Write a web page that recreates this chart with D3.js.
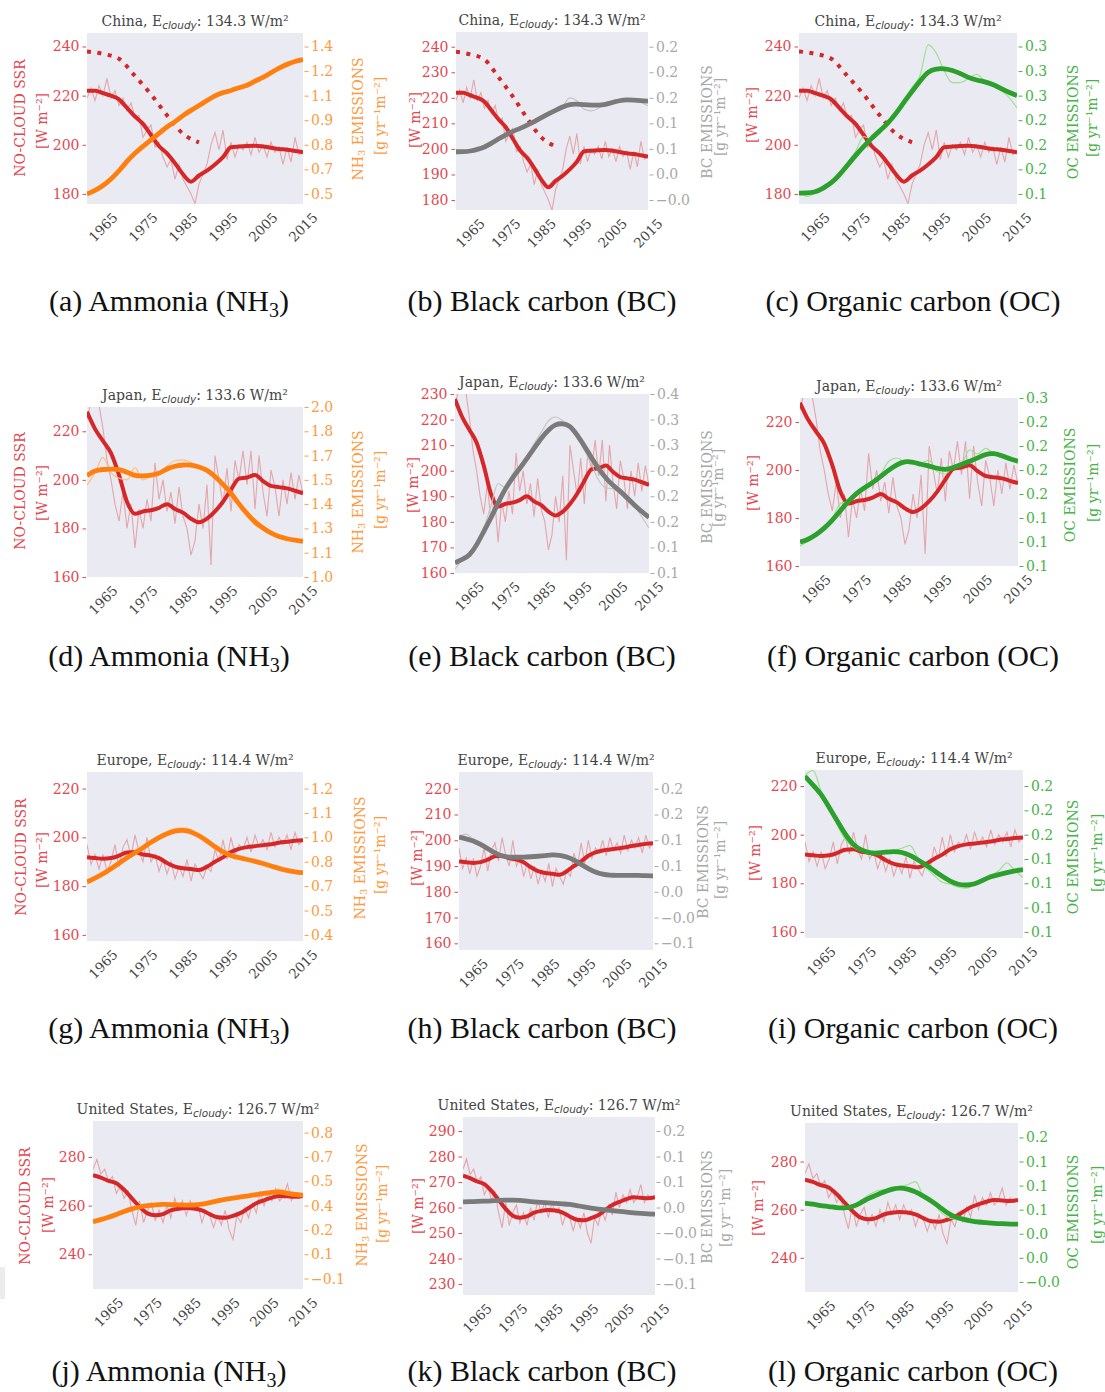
<!DOCTYPE html>
<html>
<head>
<meta charset="utf-8">
<script src="https://cdnjs.cloudflare.com/ajax/libs/d3/7.8.5/d3.min.js"></script>
<style>
  body { margin: 0; background: #fff; }
  text { font-family: "DejaVu Serif", serif; }
  text.cap { font-family: "Liberation Serif", "Times New Roman", serif; }
</style>
</head>
<body>
<svg id="fig" width="1105" height="1392"></svg>
<script>

// ---- data ----
var yearsAnnual = [1961,1962,1963,1964,1965,1966,1967,1968,1969,1970,1971,1972,1973,1974,1975,1976,1977,1978,1979,1980,
    1981,1982,1983,1984,1985,1986,1987,1988,1989,1990,1991,1992,1993,1994,1995,1996,1997,1998,1999,2000,
    2001,2002,2003,2004,2005,2006,2007,2008,2009,2010,2011,2012,2013,2014,2015];
var yearsSmooth = [1961,1963,1965,1967,1969,1971,1973,1975,1977,1979,1981,1983,1985,1987,1989,1991,1993,1995,1997,1999,
    2001,2003,2005,2007,2009,2011,2013,2015];
var xTickYears = [1965, 1975, 1985, 1995, 2005, 2015];

// no-cloud SSR [W m-2]
var ssrRawChina = [219,223,218,224,220,227,219,222,216,219,214,217,211,212,203,206,208,199,201,195,
    191,194,186,192,186,183,180,176,184,188,192,200,205,198,206,194,201,195,200,198,
    201,196,203,197,200,195,201,197,199,192,199,193,203,196,197];
var ssrSmoothChina = [222,222,221,220,218.5,215,211.5,208.5,204,199.5,196.5,192.5,188,185,187.5,189.5,192,195,199,199.3,
    199.5,199.6,199.3,198.8,198.3,198,197.5,197];
var ssrDottedYears = [1961,1965,1969,1973,1977,1981,1985,1989];
var ssrDottedChina = [238,237,235,228,220.5,212,204.5,201];

var ssrRawJapan = [225,232,233,231,221,208,200,190,183,195,180,190,172,188,180,192,183,207,192,200,
    187,195,182,197,185,180,169,175,190,180,198,165,210,200,190,205,187,208,200,212,
    198,212,188,210,195,185,204,197,185,200,190,203,192,202,194];
var ssrSmoothJapan = [228,221,216,211,202,191,186,187,187.5,188.5,190,188,186.5,184,182.5,184,187,191,196,200.5,
    201,202,199.5,197.5,197,196.5,195.5,194.5];

var ssrRawEurope = [197,189,193,187,193,186,190,197,188,196,199,192,201,194,190,200,190,193,186,191,
    185,190,183,188,184,191,182,189,186,183,188,186,195,190,199,191,200,193,197,195,
    200,194,201,196,199,195,202,196,200,197,201,195,202,197,199];
var ssrSmoothEurope = [191.8,191.5,191.2,191.5,192.5,193.8,194,193,192.5,191.5,189.5,188,187.3,187,186.6,188,190,191.8,194,195.3,
    196,196.4,196.8,197.2,197.8,198.2,198.6,198.8];

var ssrRawUS = [275,279,273,275,270,272,265,268,263,266,258,252,262,253,258,261,254,258,253,260,
    255,263,258,262,256,262,258,260,253,258,256,251,256,252,258,250,246,256,253,259,
    255,261,257,266,260,265,262,267,262,264,269,262,265,263,264];
var ssrSmoothUS = [272.5,271.5,270.2,269.2,266.5,263,259.5,256.8,256,256.5,258,258.7,259,258.8,258,256.5,255.2,255,255.8,257,
    259,261,262.2,263.3,264,263.8,263.6,264];

// emissions [g yr-1 m-2], smoothed and raw, on yearsSmooth
var nh3China = [0.50,0.52,0.55,0.59,0.64,0.70,0.75,0.79,0.83,0.87,0.91,0.94,0.98,1.01,1.04,1.07,1.10,1.12,1.13,1.15,1.16,1.19,1.21,1.24,1.27,1.29,1.31,1.32];
var nh3ChinaRaw = [0.49,0.515,0.55,0.595,0.645,0.70,0.75,0.79,0.83,0.87,0.905,0.94,0.98,1.01,1.04,1.07,1.10,1.115,1.125,1.15,1.165,1.19,1.21,1.24,1.275,1.305,1.315,1.32];
var bcChina = [0.060,0.060,0.061,0.064,0.068,0.075,0.083,0.090,0.096,0.101,0.107,0.113,0.120,0.127,0.133,0.139,0.144,0.144,0.143,0.142,0.142,0.143,0.147,0.150,0.152,0.151,0.150,0.149];
var bcChinaRaw = [0.060,0.059,0.061,0.065,0.069,0.075,0.083,0.090,0.096,0.101,0.107,0.113,0.120,0.127,0.133,0.140,0.155,0.150,0.135,0.132,0.136,0.146,0.150,0.152,0.153,0.150,0.147,0.141];
var ocChina = [0.141,0.141,0.142,0.147,0.153,0.163,0.175,0.187,0.198,0.208,0.217,0.226,0.238,0.252,0.265,0.278,0.290,0.293,0.293,0.291,0.287,0.282,0.279,0.277,0.274,0.269,0.264,0.260];
var ocChinaRaw = [0.143,0.137,0.141,0.150,0.155,0.165,0.178,0.192,0.210,0.207,0.215,0.226,0.240,0.256,0.270,0.285,0.322,0.312,0.290,0.276,0.276,0.281,0.286,0.278,0.272,0.266,0.258,0.245];

var nh3Japan = [1.565,1.595,1.600,1.603,1.602,1.585,1.562,1.563,1.567,1.575,1.605,1.620,1.627,1.626,1.615,1.598,1.560,1.515,1.465,1.400,1.345,1.295,1.262,1.232,1.212,1.200,1.192,1.186];
var nh3JapanRaw = [1.51,1.58,1.67,1.58,1.55,1.54,1.61,1.54,1.56,1.57,1.62,1.65,1.655,1.64,1.61,1.595,1.55,1.51,1.46,1.39,1.33,1.28,1.255,1.23,1.21,1.195,1.19,1.185];
var bcJapan = [0.096,0.101,0.107,0.123,0.145,0.166,0.190,0.212,0.229,0.243,0.259,0.275,0.291,0.304,0.313,0.314,0.311,0.296,0.279,0.260,0.243,0.228,0.217,0.208,0.197,0.186,0.176,0.167];
var bcJapanRaw = [0.086,0.100,0.108,0.125,0.150,0.185,0.220,0.214,0.235,0.248,0.262,0.282,0.300,0.318,0.324,0.318,0.310,0.292,0.272,0.250,0.225,0.213,0.212,0.206,0.196,0.184,0.168,0.150];
var ocJapan = [0.095,0.098,0.104,0.112,0.122,0.134,0.146,0.156,0.163,0.169,0.177,0.185,0.192,0.196,0.195,0.192,0.190,0.187,0.185,0.188,0.192,0.196,0.200,0.205,0.206,0.203,0.199,0.196];
var ocJapanRaw = [0.090,0.096,0.103,0.113,0.124,0.143,0.146,0.158,0.165,0.170,0.180,0.196,0.200,0.195,0.192,0.194,0.197,0.183,0.180,0.190,0.193,0.210,0.205,0.212,0.205,0.200,0.198,0.193];

var nh3Europe = [0.705,0.725,0.750,0.780,0.812,0.843,0.872,0.900,0.932,0.960,0.982,0.998,1.002,0.994,0.970,0.940,0.905,0.875,0.855,0.843,0.833,0.823,0.810,0.795,0.782,0.770,0.762,0.757];
var nh3EuropeRaw = [0.69,0.735,0.745,0.775,0.815,0.85,0.875,0.905,0.935,0.965,0.99,1.01,1.015,1.005,0.97,0.935,0.915,0.88,0.855,0.84,0.835,0.82,0.81,0.795,0.78,0.77,0.76,0.755];
var bcEurope = [0.136,0.133,0.129,0.122,0.114,0.105,0.099,0.097,0.097,0.097,0.098,0.099,0.100,0.102,0.101,0.098,0.092,0.083,0.075,0.068,0.064,0.062,0.062,0.062,0.062,0.062,0.061,0.061];
var bcEuropeRaw = [0.138,0.142,0.131,0.120,0.113,0.104,0.098,0.097,0.096,0.098,0.099,0.100,0.102,0.104,0.102,0.097,0.090,0.080,0.073,0.066,0.062,0.061,0.063,0.063,0.062,0.061,0.061,0.060];
var ocEurope = [0.215,0.206,0.197,0.183,0.169,0.155,0.144,0.139,0.136,0.136,0.137,0.138,0.137,0.134,0.129,0.124,0.118,0.112,0.107,0.1035,0.103,0.104,0.108,0.112,0.114,0.116,0.118,0.119];
var ocEuropeRaw = [0.216,0.221,0.200,0.186,0.165,0.150,0.142,0.138,0.136,0.135,0.137,0.139,0.141,0.144,0.131,0.121,0.113,0.106,0.104,0.101,0.100,0.104,0.109,0.113,0.118,0.126,0.118,0.111];

var nh3US = [0.281,0.293,0.308,0.325,0.345,0.360,0.372,0.380,0.385,0.388,0.387,0.384,0.383,0.383,0.388,0.398,0.410,0.419,0.427,0.433,0.440,0.448,0.455,0.462,0.466,0.455,0.448,0.444];
var nh3USRaw = [0.278,0.292,0.308,0.327,0.345,0.362,0.374,0.382,0.387,0.388,0.387,0.382,0.382,0.385,0.392,0.400,0.410,0.420,0.430,0.436,0.443,0.452,0.460,0.470,0.480,0.470,0.447,0.435];
var bcUS = [0.031,0.0315,0.032,0.0325,0.033,0.034,0.0345,0.0345,0.034,0.0325,0.031,0.030,0.029,0.028,0.027,0.0265,0.024,0.021,0.019,0.017,0.0155,0.014,0.0125,0.011,0.0095,0.0085,0.0075,0.007];
var bcUSRaw = [0.030,0.032,0.033,0.033,0.033,0.035,0.036,0.035,0.034,0.032,0.031,0.030,0.029,0.028,0.027,0.026,0.023,0.020,0.018,0.017,0.015,0.014,0.012,0.011,0.010,0.008,0.007,0.006];
var ocUS = [0.073,0.072,0.070,0.069,0.0675,0.0668,0.0685,0.073,0.079,0.083,0.087,0.0905,0.0925,0.091,0.0875,0.082,0.076,0.069,0.061,0.056,0.053,0.051,0.0495,0.0488,0.048,0.0475,0.047,0.047];
var ocUSRaw = [0.074,0.072,0.070,0.068,0.066,0.066,0.070,0.076,0.083,0.088,0.090,0.093,0.094,0.096,0.100,0.083,0.078,0.064,0.056,0.053,0.052,0.051,0.050,0.049,0.048,0.048,0.046,0.047];

// ---- panel setup ----
var regionSSR = {
    China: [ssrRawChina, ssrSmoothChina],
    Japan: [ssrRawJapan, ssrSmoothJapan],
    Europe: [ssrRawEurope, ssrSmoothEurope],
    US: [ssrRawUS, ssrSmoothUS]
};
var regionTitle = { China: ["China", "134.3"], Japan: ["Japan", "133.6"], Europe: ["Europe", "114.4"], US: ["United States", "126.7"] };

var species = {
    nh3: { line: "#ff7f0e", lab: "#ff9a40", thin: "#ffbb78", name: "NH", sub: "3", rest: " EMISSIONS" },
    bc:  { line: "#7a7a7a", lab: "#a8a8a8", thin: "#c2c2c2", name: "BC EMISSIONS" },
    oc:  { line: "#2ca02c", lab: "#47b347", thin: "#98df8a", name: "OC EMISSIONS" }
};

var redLine = "#d62728", redLab = "#e4474f";

var panels = [
  { id: "a", reg: "China", sp: "nh3", em: [nh3China, nh3ChinaRaw], x: 87, y: 33, w: 216, h: 171, left: [175.9, 245.5], lt: [180, 200, 220, 240],
    rA: [180, 0.5, 0.015], rt: [0.5, 0.65, 0.8, 0.95, 1.1, 1.25, 1.4], rl: ["0.5","0.7","0.8","0.9","1.1","1.2","1.4"],
    ssrLab: [20, 118], wLab: [41.7, 121], emLab: [358, 119], gLab: [380, 116] },
  { id: "b", reg: "China", sp: "bc", em: [bcChina, bcChinaRaw], x: 456, y: 32, w: 192, h: 178, left: [176.1, 245.75], lt: [180, 190, 200, 210, 220, 230, 240],
    rA: [180, -0.025, 0.0045], rt: [-0.025, 0.02, 0.065, 0.11, 0.155, 0.2, 0.245], rl: ["\u22120.0","0.0","0.1","0.1","0.2","0.2","0.2"],
    wLab: [415, 120], emLab: [706.7, 122], gLab: [720, 117] },
  { id: "c", reg: "China", sp: "oc", em: [ocChina, ocChinaRaw], x: 799, y: 33, w: 218, h: 171, left: [175.9, 245.5], lt: [180, 200, 220, 240],
    rA: [180, 0.14, 0.003], rt: [0.14, 0.17, 0.2, 0.23, 0.26, 0.29, 0.32], rl: ["0.1","0.2","0.2","0.2","0.3","0.3","0.3"],
    wLab: [751.7, 115], emLab: [1073, 122], gLab: [1091.7, 118] },

  { id: "d", reg: "Japan", sp: "nh3", em: [nh3Japan, nh3JapanRaw], x: 87, y: 407, w: 216, h: 170, left: [160, 230], lt: [160, 180, 200, 220],
    rA: [160, 0.98, 0.014], rt: [0.98, 1.12, 1.26, 1.4, 1.54, 1.68, 1.82, 1.96], rl: ["1.0","1.1","1.3","1.4","1.5","1.7","1.8","2.0"],
    ssrLab: [20, 491], wLab: [41.7, 493], emLab: [358.3, 492], gLab: [380, 490] },
  { id: "e", reg: "Japan", sp: "bc", em: [bcJapan, bcJapanRaw], x: 455, y: 394, w: 194, h: 179, left: [160, 230], lt: [160, 170, 180, 190, 200, 210, 220, 230],
    rA: [160, 0.08, 0.004], rt: [0.08, 0.12, 0.16, 0.2, 0.24, 0.28, 0.32, 0.36], rl: ["0.1","0.1","0.2","0.2","0.2","0.3","0.3","0.4"],
    wLab: [413, 485], emLab: [706.7, 487], gLab: [718.3, 488] },
  { id: "f", reg: "Japan", sp: "oc", em: [ocJapan, ocJapanRaw], x: 800, y: 398, w: 218, h: 168, left: [160, 230], lt: [160, 180, 200, 220],
    rA: [160, 0.065, 0.003], rt: [0.065, 0.095, 0.125, 0.155, 0.185, 0.215, 0.245, 0.275], rl: ["0.1","0.1","0.1","0.2","0.2","0.2","0.2","0.3"],
    wLab: [753, 483], emLab: [1070, 485], gLab: [1093, 483] },

  { id: "g", reg: "Europe", sp: "nh3", em: [nh3Europe, nh3EuropeRaw], x: 87, y: 772, w: 216, h: 169, left: [157.5, 226.8], lt: [160, 180, 200, 220],
    rA: [160, 0.4, 0.014], rt: [0.4, 0.54, 0.68, 0.82, 0.96, 1.1, 1.24], rl: ["0.4","0.5","0.7","0.8","1.0","1.1","1.2"],
    ssrLab: [20.7, 857], wLab: [41.7, 860], emLab: [360, 858], gLab: [380, 855] },
  { id: "h", reg: "Europe", sp: "bc", em: [bcEurope, bcEuropeRaw], x: 459, y: 772, w: 194, h: 178, left: [157.4, 226.5], lt: [160, 170, 180, 190, 200, 210, 220],
    rA: [160, -0.07, 0.005], rt: [-0.07, -0.02, 0.03, 0.08, 0.13, 0.18, 0.23], rl: ["\u22120.1","\u22120.0","0.0","0.1","0.1","0.2","0.2"],
    wLab: [416.7, 858], emLab: [703, 862], gLab: [720, 860] },
  { id: "i", reg: "Europe", sp: "oc", em: [ocEurope, ocEuropeRaw], x: 805, y: 770, w: 218, h: 168, left: [157.5, 226.6], lt: [160, 180, 200, 220],
    rA: [160, 0.055, 0.0025], rt: [0.055, 0.08, 0.105, 0.13, 0.155, 0.18, 0.205], rl: ["0.1","0.1","0.1","0.1","0.2","0.2","0.2"],
    wLab: [755, 853], emLab: [1073, 857], gLab: [1096.7, 853] },

  { id: "j", reg: "US", sp: "nh3", em: [nh3US, nh3USRaw], x: 93, y: 1121, w: 210, h: 168, left: [225.7, 294.8], lt: [240, 260, 280],
    rA: [230, -0.07, 0.015], rt: [-0.07, 0.08, 0.23, 0.38, 0.53, 0.68, 0.83], rl: ["\u22120.1","0.1","0.2","0.4","0.5","0.7","0.8"],
    ssrLab: [25, 1206], wLab: [48.3, 1205], emLab: [361.7, 1205], gLab: [381.7, 1204] },
  { id: "k", reg: "US", sp: "bc", em: [bcUS, bcUSRaw], x: 463, y: 1117, w: 192, h: 178, left: [225.7, 295.5], lt: [230, 240, 250, 260, 270, 280, 290],
    rA: [230, -0.13, 0.005], rt: [-0.13, -0.08, -0.03, 0.02, 0.07, 0.12, 0.17], rl: ["\u22120.1","\u22120.1","\u22120.0","0.0","0.1","0.1","0.2"],
    wLab: [418.3, 1206], emLab: [706.7, 1207], gLab: [725, 1208] },
  { id: "l", reg: "US", sp: "oc", em: [ocUS, ocUSRaw], x: 805, y: 1123, w: 213, h: 169, left: [225.8, 296], lt: [240, 260, 280],
    rA: [230, -0.025, 0.003], rt: [-0.025, 0.005, 0.035, 0.065, 0.095, 0.125, 0.155], rl: ["\u22120.0","0.0","0.0","0.1","0.1","0.1","0.2"],
    wLab: [758.3, 1208], emLab: [1073, 1212], gLab: [1096.7, 1205] }
];

var captions = [
    ["(a) Ammonia (NH", "3", ")"], ["(b) Black carbon (BC)"], ["(c) Organic carbon (OC)"],
    ["(d) Ammonia (NH", "3", ")"], ["(e) Black carbon (BC)"], ["(f) Organic carbon (OC)"],
    ["(g) Ammonia (NH", "3", ")"], ["(h) Black carbon (BC)"], ["(i) Organic carbon (OC)"],
    ["(j) Ammonia (NH", "3", ")"], ["(k) Black carbon (BC)"], ["(l) Organic carbon (OC)"]
];
var captionX = [169, 542, 913];
var captionY = [311, 666, 1038, 1381];

// ---- drawing ----
var svg = d3.select("#fig");
var defs = svg.append("defs");

// small grey box at the left edge of the last row
svg.append("rect").attr("x", 0).attr("y", 1267).attr("width", 5).attr("height", 32).attr("fill", "#ececec");

function vtext(x, cy, color, size) {
    return svg.append("text")
        .attr("transform", "translate(" + x + "," + cy + ") rotate(-90)")
        .attr("text-anchor", "middle")
        .attr("dominant-baseline", "central")
        .attr("fill", color)
        .style("font-size", size + "px");
}

function drawPanel(p) {
    var sp = species[p.sp];
    var ssr = regionSSR[p.reg];

    var x = d3.scaleLinear().domain([1961, 2015]).range([p.x, p.x + p.w]);
    var y = d3.scaleLinear().domain(p.left).range([p.y + p.h, p.y]);
    var rDom = p.left.map(function(L) { return p.rA[1] + (L - p.rA[0]) * p.rA[2]; });
    var y2 = d3.scaleLinear().domain(rDom).range([p.y + p.h, p.y]);

    var g = svg.append("g");
    g.append("rect")
        .attr("x", p.x).attr("y", p.y).attr("width", p.w).attr("height", p.h)
        .attr("fill", "#eaeaf2");

    defs.append("clipPath").attr("id", "clip-" + p.id)
        .append("rect").attr("x", p.x).attr("y", p.y).attr("width", p.w).attr("height", p.h);
    var plot = g.append("g").attr("clip-path", "url(#clip-" + p.id + ")");

    var lineRaw = d3.line().x(function(d) { return x(d[0]); }).y(function(d) { return y(d[1]); });
    var lineSm = d3.line().x(function(d) { return x(d[0]); }).y(function(d) { return y(d[1]); }).curve(d3.curveMonotoneX);
    var eRaw = d3.line().x(function(d) { return x(d[0]); }).y(function(d) { return y2(d[1]); }).curve(d3.curveMonotoneX);
    var eSm = d3.line().x(function(d) { return x(d[0]); }).y(function(d) { return y2(d[1]); }).curve(d3.curveBasis);

    // SSR
    plot.append("path").datum(d3.zip(yearsAnnual, ssr[0]))
        .attr("d", lineRaw).attr("fill", "none")
        .attr("stroke", redLine).attr("stroke-opacity", 0.35).attr("stroke-width", 1.1);
    plot.append("path").datum(d3.zip(yearsSmooth, ssr[1]))
        .attr("d", lineSm).attr("fill", "none")
        .attr("stroke", redLine).attr("stroke-width", 4).attr("stroke-linejoin", "round");
    if (p.reg === "China") {
        plot.append("path").datum(d3.zip(ssrDottedYears, ssrDottedChina))
            .attr("d", lineSm).attr("fill", "none")
            .attr("stroke", redLine).attr("stroke-width", 4).attr("stroke-dasharray", "4,6.5");
    }

    // emissions
    plot.append("path").datum(d3.zip(yearsSmooth, p.em[1]))
        .attr("d", eRaw).attr("fill", "none")
        .attr("stroke", sp.thin).attr("stroke-opacity", 0.9).attr("stroke-width", 1.2);
    plot.append("path").datum(d3.zip(yearsSmooth, p.em[0]))
        .attr("d", eSm).attr("fill", "none")
        .attr("stroke", sp.line).attr("stroke-width", 4.8).attr("stroke-linecap", "butt");

    // left axis
    var la = g.append("g")
        .attr("transform", "translate(" + (p.x - 1) + ",0)")
        .call(d3.axisLeft(y).tickValues(p.lt).tickSize(3.5).tickPadding(3).tickFormat(d3.format("d")));
    la.select(".domain").remove();
    la.selectAll("line").attr("stroke", redLab).attr("stroke-width", 1);
    la.selectAll("text").attr("fill", redLab).style("font-size", "14px").style("font-family", "DejaVu Serif");

    // right axis
    var ra = g.append("g")
        .attr("transform", "translate(" + (p.x + p.w + 1.5) + ",0)")
        .call(d3.axisRight(y2).tickValues(p.rt).tickSize(4).tickPadding(2.5)
            .tickFormat(function(d, i) { return p.rl[i]; }));
    ra.select(".domain").remove();
    ra.selectAll("line").attr("stroke", sp.lab).attr("stroke-width", 1);
    ra.selectAll("text").attr("fill", sp.lab).style("font-size", "14px").style("font-family", "DejaVu Serif");

    // x labels (rotated)
    g.selectAll(".xl").data(xTickYears).enter().append("text")
        .attr("class", "xl")
        .attr("transform", function(d) { return "translate(" + x(d) + "," + (p.y + p.h + 23) + ") rotate(-45)"; })
        .attr("text-anchor", "middle")
        .attr("dominant-baseline", "central")
        .attr("fill", "#444")
        .style("font-size", "13.5px")
        .text(function(d) { return d; });

    // title
    var t = regionTitle[p.reg];
    var tt = g.append("text")
        .attr("x", p.x + p.w / 2).attr("y", p.y - 7)
        .attr("text-anchor", "middle").attr("fill", "#444")
        .style("font-size", "14px");
    tt.append("tspan").text(t[0] + ", E");
    tt.append("tspan").attr("dy", 3).style("font-family", "DejaVu Sans").style("font-style", "italic")
        .style("font-size", "10.5px").text("cloudy");
    tt.append("tspan").attr("dy", -3).text(": " + t[1] + " W/m\u00b2");

    // axis labels
    if (p.ssrLab) vtext(p.ssrLab[0], p.ssrLab[1], redLab, 14).text("NO-CLOUD SSR");
    vtext(p.wLab[0], p.wLab[1], redLab, 14).text("[W m\u207b\u00b2]");
    var el = vtext(p.emLab[0], p.emLab[1], sp.lab, 14);
    if (sp.sub) {
        el.append("tspan").text(sp.name);
        el.append("tspan").attr("dy", 3).style("font-size", "10px").text(sp.sub);
        el.append("tspan").attr("dy", -3).text(sp.rest);
    } else {
        el.text(sp.name);
    }
    vtext(p.gLab[0], p.gLab[1], sp.lab, 14).text("[g yr\u207b\u00b9m\u207b\u00b2]");
}

panels.forEach(drawPanel);

// captions
captions.forEach(function(c, i) {
    var t = svg.append("text")
        .attr("class", "cap")
        .attr("x", captionX[i % 3]).attr("y", captionY[Math.floor(i / 3)])
        .attr("text-anchor", "middle").attr("fill", "#111")
        .style("font-size", "30px");
    t.append("tspan").text(c[0]);
    if (c.length > 1) {
        t.append("tspan").attr("dy", 6).style("font-size", "20px").text(c[1]);
        t.append("tspan").attr("dy", -6).text(c[2]);
    }
});

</script>
</body>
</html>
